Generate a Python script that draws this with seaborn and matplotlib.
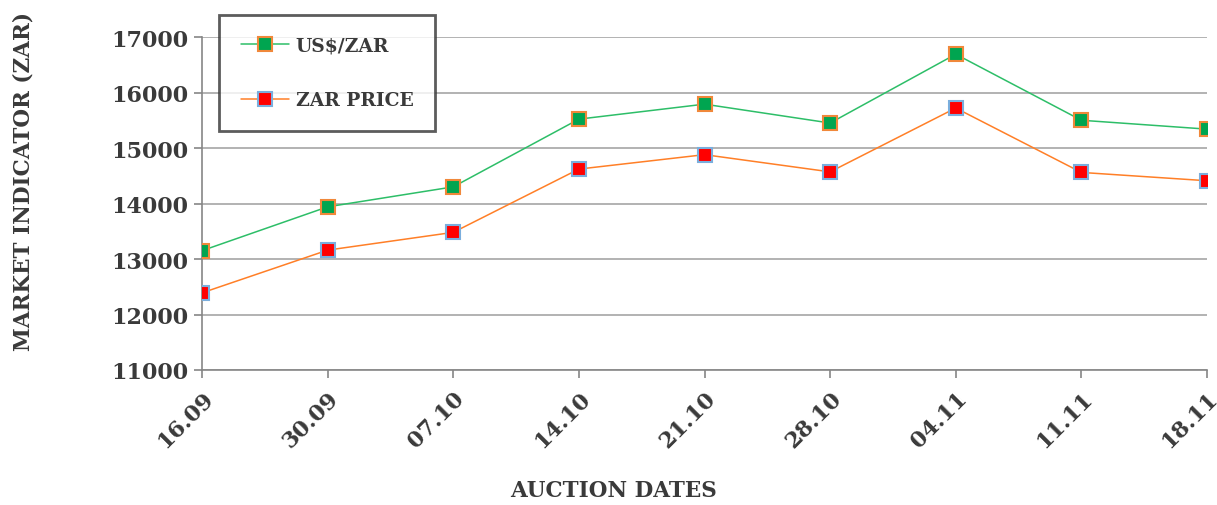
import matplotlib
matplotlib.use("Agg")
import matplotlib.pyplot as plt
import seaborn as sns
import pandas as pd

# Data
dates = ["16.09", "30.09", "07.10", "14.10", "21.10", "28.10", "04.11", "11.11", "18.11"]
usd_zar = [13150, 13940, 14300, 15520, 15790, 15450, 16690, 15500, 15340]
zar_price = [12390, 13160, 13480, 14620, 14880, 14570, 15720, 14560, 14410]

sns.set_theme(style="white")
plt.rcParams["font.family"] = ["DejaVu Serif"]
plt.rcParams["font.weight"] = "bold"

df = pd.DataFrame({"idx": range(len(dates)), "date": dates,
                   "US$/ZAR": usd_zar, "ZAR PRICE": zar_price})

fig = plt.figure(figsize=(12.17, 5.06), dpi=100)
ax = fig.add_axes([202 / 1217, 1 - 371 / 506, (1207 - 202) / 1217, (371 - 38) / 506])

sns.lineplot(data=df, x="idx", y="US$/ZAR", ax=ax, color="#2DBE68", lw=1.1,
             marker="s", markersize=10, markerfacecolor="#00A550",
             markeredgecolor="#F0883A", markeredgewidth=1.5, label="US$/ZAR", zorder=3)
sns.lineplot(data=df, x="idx", y="ZAR PRICE", ax=ax, color="#FF7F27", lw=1.1,
             marker="s", markersize=10, markerfacecolor="#FF0000",
             markeredgecolor="#7AAEDD", markeredgewidth=1.5, label="ZAR PRICE", zorder=3)

ax.set_xlim(0, len(dates) - 1)
ax.set_ylim(11000, 17000)
ax.set_yticks(range(11000, 17001, 1000))
ax.set_xticks(df["idx"])
ax.set_xticklabels(dates, rotation=45, ha="right", rotation_mode="anchor")
ax.grid(axis="y", color="#A6A6A6", lw=1.2)
ax.set_axisbelow(True)

for side in ["top", "right"]:
    ax.spines[side].set_visible(False)
for side in ["left", "bottom"]:
    ax.spines[side].set_color("#868686")
    ax.spines[side].set_linewidth(1.2)

ax.tick_params(axis="both", which="major", length=6, width=1.2, color="#868686",
               labelsize=16, labelcolor="#3A3A3A", direction="out", pad=4)
ax.tick_params(axis="x", bottom=True, pad=6)
ax.tick_params(axis="y", left=True)

ax.set_xlabel("AUCTION DATES", fontsize=15.5, fontweight="bold", color="#3A3A3A")
ax.set_ylabel("MARKET INDICATOR (ZAR)", fontsize=15.5, fontweight="bold", color="#3A3A3A")
ax.xaxis.set_label_coords((614 - 202) / 1005, (371 - 480) / 333)
ax.yaxis.set_label_coords((34 - 202) / 1005, (371 - 182) / 333)

leg = ax.legend(loc="upper left", bbox_to_anchor=(219 / 1217, 1 - 16 / 506),
                bbox_transform=fig.transFigure, frameon=True, fancybox=False,
                fontsize=13.5, labelspacing=1.95, borderpad=1.15, handlelength=2.6,
                handletextpad=0.35, borderaxespad=0)
leg.get_frame().set_edgecolor("#333333")
leg.get_frame().set_linewidth(2)
for t in leg.get_texts():
    t.set_color("#3A3A3A")

fig.savefig("out.png", dpi=100)
